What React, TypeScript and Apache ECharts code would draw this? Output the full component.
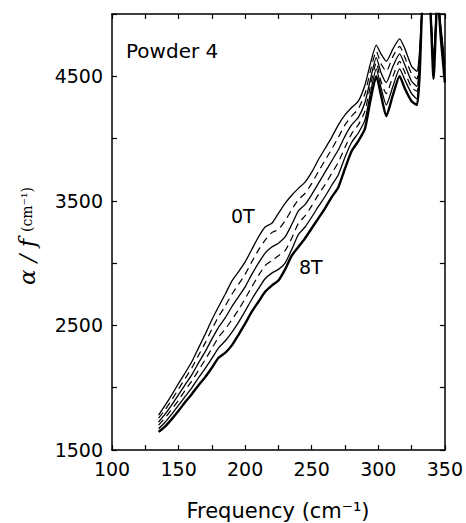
import React, { useEffect, useRef } from "react";
import * as echarts from "echarts";

// Frequency grid (cm^-1)
const FREQ = [135, 140, 145, 150, 155, 160, 165, 170, 175, 180, 185, 190, 195, 200, 205, 210, 215, 220, 225, 230, 235, 240, 245, 250, 255, 260, 265, 270, 275, 280, 285, 290, 294, 298.5, 302, 306, 311, 316, 320, 325, 329, 331, 334, 338, 341.5, 344.5, 347, 350];

// alpha/f values (cm^-1) for each field, top (0T) to bottom (8T)
const CURVE_0T = [1780, 1860, 1945, 2035, 2120, 2210, 2320, 2430, 2545, 2650, 2750, 2855, 2930, 3010, 3110, 3210, 3290, 3320, 3400, 3480, 3545, 3600, 3650, 3730, 3830, 3920, 4010, 4110, 4190, 4250, 4300, 4430, 4600, 4750, 4680, 4620, 4720, 4800, 4720, 4580, 4540, 4700, 5150, 5150, 4650, 5150, 4900, 4600];
const CURVE_2 = [1755, 1825, 1905, 1990, 2075, 2160, 2260, 2360, 2470, 2570, 2655, 2750, 2830, 2910, 3010, 3105, 3185, 3245, 3270, 3340, 3430, 3510, 3560, 3640, 3735, 3825, 3915, 4010, 4110, 4180, 4240, 4360, 4540, 4700, 4600, 4540, 4660, 4740, 4650, 4520, 4480, 4650, 5150, 5150, 4620, 5150, 4880, 4570];
const CURVE_3 = [1725, 1790, 1865, 1945, 2025, 2105, 2200, 2290, 2390, 2485, 2560, 2650, 2730, 2810, 2910, 3000, 3080, 3130, 3160, 3210, 3310, 3420, 3470, 3550, 3640, 3730, 3820, 3910, 4020, 4110, 4170, 4290, 4470, 4650, 4530, 4450, 4580, 4680, 4590, 4460, 4420, 4620, 5150, 5150, 4590, 5150, 4860, 4540];
const CURVE_4 = [1700, 1760, 1830, 1900, 1980, 2055, 2140, 2225, 2315, 2405, 2470, 2545, 2625, 2715, 2810, 2900, 2980, 3020, 3060, 3100, 3200, 3320, 3380, 3460, 3550, 3630, 3720, 3810, 3930, 4040, 4110, 4220, 4420, 4610, 4460, 4360, 4500, 4620, 4530, 4410, 4380, 4580, 5150, 5150, 4560, 5150, 4840, 4510];
const CURVE_5 = [1670, 1725, 1790, 1860, 1930, 2000, 2080, 2155, 2235, 2320, 2375, 2445, 2525, 2615, 2710, 2795, 2875, 2920, 2950, 3000, 3110, 3230, 3290, 3370, 3455, 3535, 3625, 3710, 3850, 3970, 4045, 4150, 4360, 4560, 4410, 4270, 4420, 4560, 4470, 4360, 4320, 4540, 5150, 5150, 4520, 5150, 4820, 4480];
const CURVE_8T = [1645, 1690, 1750, 1815, 1885, 1950, 2020, 2085, 2160, 2240, 2280, 2340, 2425, 2515, 2610, 2690, 2770, 2820, 2860, 2950, 3060, 3130, 3200, 3280, 3360, 3440, 3530, 3610, 3760, 3900, 3980, 4080, 4300, 4500, 4350, 4180, 4350, 4500, 4400, 4300, 4270, 4500, 5150, 5150, 4480, 5150, 4800, 4450];

const CURVES: { name: string; values: number[]; dashed: boolean; width: number }[] = [
  { name: "0T", values: CURVE_0T, dashed: false, width: 1.3 },
  { name: "curve 2", values: CURVE_2, dashed: true, width: 1.2 },
  { name: "curve 3", values: CURVE_3, dashed: false, width: 1.3 },
  { name: "curve 4", values: CURVE_4, dashed: true, width: 1.2 },
  { name: "curve 5", values: CURVE_5, dashed: false, width: 1.3 },
  { name: "8T", values: CURVE_8T, dashed: false, width: 2.4 },
];

const X_LABELS = [100, 150, 200, 250, 300, 350];
const Y_LABELS = [1500, 2500, 3500, 4500];

const FONT = "DejaVu Sans";

export default function App() {
  const ref = useRef<HTMLDivElement>(null);
  useEffect(() => {
    if (!ref.current) return;
    const chart = echarts.init(ref.current, null, { renderer: "svg" });
    const axisLine = { show: true, lineStyle: { color: "#000", width: 1.5 } };
    const tick = { show: true, inside: true, length: 5, lineStyle: { color: "#000", width: 1.2 } };
    const xBase = { type: "value", min: 100, max: 350, interval: 25, splitLine: { show: false }, axisLine, axisTick: tick };
    const yBase = { type: "value", min: 1500, max: 5000, interval: 500, splitLine: { show: false }, axisLine, axisTick: tick };
    chart.setOption({
      animation: false,
      backgroundColor: "#fff",
      grid: { left: 112, right: 21, top: 14, bottom: 73, containLabel: false },
      xAxis: [
        {
          ...xBase,
          position: "bottom",
          axisLabel: {
            margin: 9,
            color: "#000",
            fontFamily: FONT,
            fontSize: 19,
            formatter: (v: number) => (X_LABELS.includes(v) ? String(v) : ""),
          },
        },
        { ...xBase, position: "top", axisLabel: { show: false } },
      ],
      yAxis: [
        {
          ...yBase,
          position: "left",
          axisLabel: {
            margin: 9,
            color: "#000",
            fontFamily: FONT,
            fontSize: 19,
            formatter: (v: number) => (Y_LABELS.includes(v) ? String(v) : ""),
          },
        },
        { ...yBase, position: "right", axisLabel: { show: false } },
      ],
      series: CURVES.map((c) => ({
        type: "line",
        name: c.name,
        xAxisIndex: 0,
        yAxisIndex: 0,
        showSymbol: false,
        symbol: "none",
        smooth: 0.2,
        clip: true,
        lineStyle: { color: "#000", width: c.width, type: c.dashed ? [7, 5] : "solid" },
        data: FREQ.map((f, i) => [f, c.values[i]]),
      })),
      graphic: [
        {
          type: "text",
          left: 126,
          top: 41,
          style: { text: "Powder 4", fill: "#000", font: `20px "${FONT}"` },
        },
        {
          type: "text",
          left: 231,
          top: 206,
          style: { text: "0T", fill: "#000", font: `19px "${FONT}"` },
        },
        {
          type: "text",
          left: 299,
          top: 257,
          style: { text: "8T", fill: "#000", font: `19px "${FONT}"` },
        },
        {
          type: "text",
          x: 278,
          y: 511,
          style: {
            text: "Frequency (cm⁻¹)",
            fill: "#000",
            font: `21px "${FONT}"`,
            align: "center",
            verticalAlign: "middle",
          },
        },
        {
          type: "text",
          x: 27,
          y: 236,
          rotation: Math.PI / 2,
          style: {
            text: "{a|α / f}  {b|(cm⁻¹)}",
            fill: "#000",
            align: "center",
            verticalAlign: "middle",
            rich: {
              a: { fontFamily: "DejaVu Serif", fontStyle: "italic", fontSize: 23, fill: "#000" },
              b: { fontFamily: "DejaVu Serif", fontSize: 14, fill: "#000" },
            },
          },
        },
      ],
    });
    return () => chart.dispose();
  }, []);
  return (
    <div
      ref={ref}
      style={{ position: "fixed", left: 0, top: 0, width: 466, height: 523, background: "#fff" }}
    />
  );
}
